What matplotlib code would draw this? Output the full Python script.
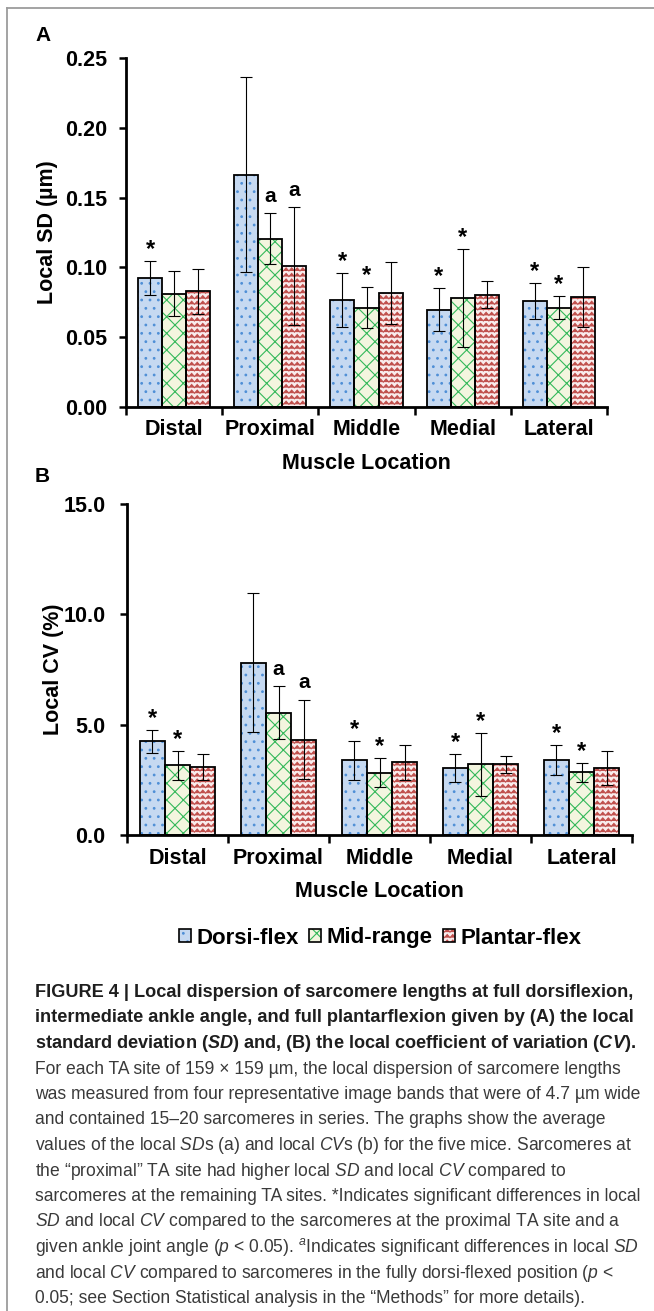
import numpy as np
import warnings
import matplotlib
matplotlib.use('Agg')
import matplotlib.pyplot as plt
from matplotlib import hatch as mhatch
from matplotlib.path import Path
from matplotlib.patches import Patch
from matplotlib.lines import Line2D
from matplotlib.legend_handler import HandlerTuple

warnings.filterwarnings('ignore')

# ---------------- data ----------------
locations = ['Distal', 'Proximal', 'Middle', 'Medial', 'Lateral']
series = ['Dorsi-flex', 'Mid-range', 'Plantar-flex']

sd_dorsi = [0.0926, 0.1664, 0.0769, 0.0698, 0.0759]
sd_mid = [0.0812, 0.1205, 0.0712, 0.0783, 0.0712]
sd_plantar = [0.0829, 0.1010, 0.0819, 0.0805, 0.0788]
sd_dorsi_err = [0.0122, 0.0700, 0.0193, 0.0151, 0.0129]
sd_mid_err = [0.0160, 0.0183, 0.0147, 0.0350, 0.0083]
sd_plantar_err = [0.0163, 0.0420, 0.0221, 0.0095, 0.0216]

cv_dorsi = [4.24, 7.80, 3.38, 3.03, 3.38]
cv_mid = [3.15, 5.53, 2.83, 3.21, 2.84]
cv_plantar = [3.08, 4.32, 3.30, 3.21, 3.03]
cv_dorsi_err = [0.53, 3.15, 0.87, 0.65, 0.68]
cv_mid_err = [0.65, 1.20, 0.65, 1.43, 0.43]
cv_plantar_err = [0.60, 1.80, 0.80, 0.38, 0.78]

# significance marks (rows: series, columns: locations)
sd_marks = [['*', '', '*', '*', '*'],
            ['', 'a', '*', '*', '*'],
            ['', 'a', '', '', '']]
cv_marks = [['*', '', '*', '*', '*'],
            ['*', 'a', '*', '*', '*'],
            ['', 'a', '', '', '']]

sd_ticks = [0.00, 0.05, 0.10, 0.15, 0.20, 0.25]
cv_ticks = [0.0, 5.0, 10.0, 15.0]

caption_lines = [
    ("FIGURE 4 | Local dispersion of sarcomere lengths at full dorsiflexion,", True),
    ("intermediate ankle angle, and full plantarflexion given by (A) the local", True),
    (r"standard deviation ($\mathbfit{SD}$) and, (B) the local coefficient of variation ($\mathbfit{CV}$).", True),
    ("For each TA site of 159 \u00d7 159 \u00b5m, the local dispersion of sarcomere lengths", False),
    ("was measured from four representative image bands that were of 4.7 \u00b5m wide", False),
    ("and contained 15\u201320 sarcomeres in series. The graphs show the average", False),
    (r"values of the local $\mathit{SD}$s (a) and local $\mathit{CV}$s (b) for the five mice. Sarcomeres at", False),
    ("the \u201cproximal\u201d TA site had higher local $\\mathit{SD}$ and local $\\mathit{CV}$ compared to", False),
    ("sarcomeres at the remaining TA sites. *Indicates significant differences in local", False),
    (r"$\mathit{SD}$ and local $\mathit{CV}$ compared to the sarcomeres at the proximal TA site and a", False),
    (r"given ankle joint angle ($\mathit{p}$ < 0.05). ${}^{\mathit{a}}$Indicates significant differences in local $\mathit{SD}$", False),
    (r"and local $\mathit{CV}$ compared to sarcomeres in the fully dorsi-flexed position ($\mathit{p}$ <", False),
    ("0.05; see Section Statistical analysis in the \u201cMethods\u201d for more details).", False),
]

# ---------------- custom zigzag hatch ----------------
class ZigZagHatch(mhatch.HatchPatternBase):
    def __init__(self, hatch, density):
        self.num_lines = int(hatch.count('z') * density)
        self.npts = 2 * self.num_lines + 1
        self.num_vertices = self.num_lines * self.npts if self.num_lines else 0

    def set_vertices_and_codes(self, vertices, codes):
        n = self.num_lines
        ys = (np.arange(n) + 0.5) / n
        amp = 0.28 / n
        xs = np.linspace(0.0, 1.0, self.npts)
        offs = np.where(np.arange(self.npts) % 2 == 0, -amp, amp)
        k = 0
        for y in ys:
            vertices[k:k + self.npts, 0] = xs
            vertices[k:k + self.npts, 1] = y + offs
            codes[k] = Path.MOVETO
            codes[k + 1:k + self.npts] = Path.LINETO
            k += self.npts

mhatch._hatch_types.append(ZigZagHatch)
mhatch._validate_hatch_pattern = lambda h: None

# ---------------- style ----------------
plt.rcParams['font.family'] = ['Liberation Sans', 'DejaVu Sans']
plt.rcParams['mathtext.fontset'] = 'custom'
plt.rcParams['mathtext.rm'] = 'Liberation Sans'
plt.rcParams['mathtext.it'] = 'Liberation Sans:italic'
plt.rcParams['mathtext.bf'] = 'Liberation Sans:bold'
try:
    plt.rcParams['mathtext.bfit'] = 'Liberation Sans:italic:bold'
except KeyError:
    pass
plt.rcParams['hatch.linewidth'] = 0.8

fills = ['#c6d9f1', '#f3f5df', '#f9ecec']
hatch_cols = ['#4f8fd6', '#34b85a', '#c0504d']
hatches = ['..', 'xx', 'zzz']

W, H = 654, 1311
fig = plt.figure(figsize=(W / 100, H / 100), dpi=100)


def px_axes(left, top, right, bottom):
    return fig.add_axes([left / W, 1 - bottom / H, (right - left) / W, (bottom - top) / H])


TFS = 15.5


def draw_panel(ax, vals, errs, marks, ticks, fmt, ylabel, ylab_x, xlab_y, ypad, xpad):
    x = np.arange(len(locations))
    w = 0.25
    for i in range(3):
        pos = x + (i - 1) * w
        ax.bar(pos, vals[i], w, color=fills[i], edgecolor=hatch_cols[i],
               hatch=hatches[i], linewidth=0, zorder=2)
        ax.bar(pos, vals[i], w, fill=False, edgecolor='black', linewidth=1.3, zorder=3)
        ax.errorbar(pos, vals[i], yerr=errs[i], fmt='none', ecolor='black',
                    elinewidth=0.8, capsize=4, capthick=0.8, zorder=4)
        for p, v, e, m in zip(pos, vals[i], errs[i], marks[i]):
            if not m:
                continue
            if m == '*':
                ax.annotate('*', xy=(p, v + e), xytext=(0, 0), textcoords='offset points',
                            ha='center', va='bottom', fontsize=17, fontweight='bold', zorder=5)
            else:
                ax.annotate(m, xy=(p, v + e), xytext=(0, 5.5), textcoords='offset points',
                            ha='center', va='bottom', fontsize=15, fontweight='bold', zorder=5)
    ax.set_xlim(-0.5, len(locations) - 0.5)
    ax.set_ylim(ticks[0], ticks[-1])
    ax.set_yticks(ticks)
    ax.set_yticklabels([fmt % t for t in ticks])
    ax.set_xticks(np.arange(-0.5, len(locations), 1.0))
    ax.set_xticklabels([])
    ax.set_xticks(x, minor=True)
    ax.set_xticklabels(locations, minor=True)
    ax.tick_params(axis='x', which='major', direction='out', length=5.5, width=1.8)
    ax.tick_params(axis='x', which='minor', length=0, pad=xpad, labelsize=TFS)
    ax.tick_params(axis='y', direction='out', length=5, width=1.8, pad=ypad, labelsize=TFS)
    for lab in ax.get_xticklabels(minor=True) + ax.get_yticklabels():
        lab.set_fontweight('bold')
    for s in ['top', 'right']:
        ax.spines[s].set_visible(False)
    for s in ['left', 'bottom']:
        ax.spines[s].set_linewidth(2.0)
        ax.spines[s].set_zorder(6)
    ax.set_ylabel(ylabel, fontsize=TFS, fontweight='bold')
    ax.yaxis.set_label_coords(ylab_x, 0.5)
    ax.set_xlabel('Muscle Location', fontsize=TFS, fontweight='bold')
    ax.xaxis.set_label_coords(0.5, xlab_y)
    ax.patch.set_alpha(0)


# Panel A
axA = px_axes(126, 58, 607, 407)
draw_panel(axA, [sd_dorsi, sd_mid, sd_plantar], [sd_dorsi_err, sd_mid_err, sd_plantar_err],
           sd_marks, sd_ticks, '%.2f', 'Local SD (\u00b5m)',
           (58 - 126) / 481, (407 - 453) / 349, 8.6, 8.6)

# Panel B
axB = px_axes(127, 504, 632, 835)
draw_panel(axB, [cv_dorsi, cv_mid, cv_plantar], [cv_dorsi_err, cv_mid_err, cv_plantar_err],
           cv_marks, cv_ticks, '%.1f', 'Local CV (%)',
           (64 - 127) / 505, (835 - 881) / 331, 10.5, 9.2)

# panel letters
fig.text(35 / W, 1 - 41 / H, 'A', fontsize=15, fontweight='bold', ha='left', va='baseline')
fig.text(35 / W, 1 - 482 / H, 'B', fontsize=15, fontweight='bold', ha='left', va='baseline')

# legend
handles = []
for i in range(3):
    p1 = Patch(facecolor=fills[i], edgecolor=hatch_cols[i], hatch=hatches[i], linewidth=0)
    p2 = Patch(fill=False, edgecolor='black', linewidth=1.2)
    handles.append((p1, p2))
leg = fig.legend(handles, series, loc='center', bbox_to_anchor=(380 / W, 1 - 938 / H),
                 ncol=3, frameon=False, prop={'size': 16, 'weight': 'bold'},
                 handlelength=0.55, handleheight=0.55, handletextpad=0.25,
                 columnspacing=0.45, handler_map={tuple: HandlerTuple(ndivide=1)})

# caption
renderer = fig.canvas.get_renderer()
x0 = 35 / W
base0 = 997
step = 25.5
texts = []
for k, (line, bold) in enumerate(caption_lines):
    t = fig.text(x0, 1 - (base0 + k * step) / H, line, fontsize=12,
                 fontweight='bold' if bold else 'normal',
                 color='#1e1e1e' if bold else '#3a3a3a', ha='left', va='baseline')
    texts.append(t)

w_bold = texts[0].get_window_extent(renderer).width
w_reg = texts[3].get_window_extent(renderer).width
fs_bold = 12 * 595 / w_bold
fs_reg = 12 * 588 / w_reg
for t, (line, bold) in zip(texts, caption_lines):
    t.set_fontsize(fs_bold if bold else fs_reg)

# frame lines (top and left)
fig.add_artist(Line2D([7 / W, 1.0], [1 - 8 / H, 1 - 8 / H], transform=fig.transFigure,
                      color='#9c9c9c', linewidth=1.3))
fig.add_artist(Line2D([7 / W, 7 / W], [1 - 8 / H, 0.0], transform=fig.transFigure,
                      color='#9c9c9c', linewidth=1.3))

fig.savefig('out.png', dpi=100)
